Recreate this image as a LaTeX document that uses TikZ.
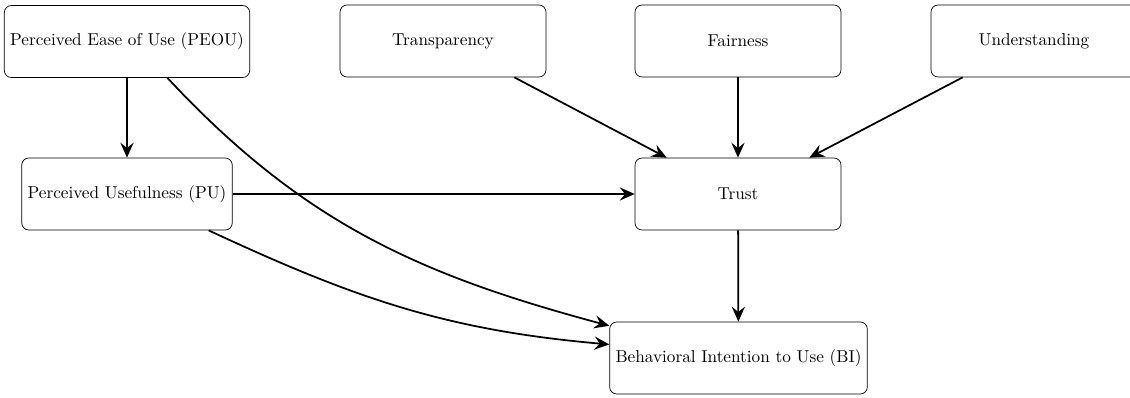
\documentclass[tikz,border=0pt]{standalone}
\usepackage{tikz}
\usetikzlibrary{arrows.meta, positioning}

\begin{document}
\begin{tikzpicture}[x=0.02cm, y=-0.02cm,
  every node/.style={font=\fontsize{9.8}{12}\selectfont},
  factor/.style={draw, rounded corners=4pt, minimum height=1.44cm, minimum width=4.12cm, align=center},
  link/.style={-{Stealth[length=8.5pt, width=7.5pt, inset=3pt]}, line width=1pt}]
  \useasboundingbox (0,0) rectangle (1130,397);
  % top row
  \node[factor, minimum width=4.88cm] (peou) at (127,41.5) {Perceived Ease of Use (PEOU)};
  \node[factor] (transp) at (443,41) {Transparency};
  \node[factor] (fair) at (738,41) {Fairness};
  \node[factor] (underst) at (1034,41) {Understanding};
  % middle row
  \node[factor, minimum width=4.2cm] (pu) at (127,194) {Perceived Usefulness (PU)};
  \node[factor] (trust) at (738,194) {Trust};
  % outcome
  \node[factor, minimum width=5.14cm] (bi) at (738.5,358) {Behavioral Intention to Use (BI)};
  % links
  \draw[link] (peou) -- (pu);
  \draw[link] (peou.-42) to[out=-47, in=165] (bi.166);
  \draw[link] (pu) -- (trust);
  \draw[link] (pu.-24.5) to[out=-25, in=175] (bi.174);
  \draw[link] (transp.-27) -- (trust.153);
  \draw[link] (fair) -- (trust);
  \draw[link] (underst.-153) -- (trust.27);
  \draw[link] (trust) -- (bi);
\end{tikzpicture}
\end{document}
